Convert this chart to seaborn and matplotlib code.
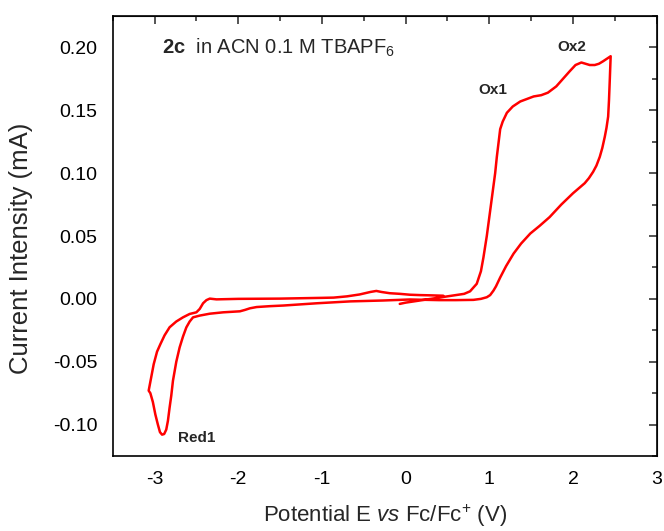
import matplotlib
matplotlib.use("Agg")
import matplotlib.pyplot as plt
from matplotlib.ticker import MultipleLocator, FixedLocator
import seaborn as sns
import pandas as pd

# Cyclic voltammogram trace (potential V vs Fc/Fc+, current mA)
potential = [
    -0.07, 0.00, 0.20, 0.40, 0.60, 0.70, 0.77, 0.85, 0.90, 0.93, 0.97, 1.01, 1.04, 1.07, 1.09,
    1.11, 1.13, 1.16, 1.21, 1.28, 1.37, 1.45, 1.53, 1.62, 1.70, 1.80, 1.88, 1.96, 2.03, 2.10,
    2.15, 2.20, 2.26, 2.31, 2.36, 2.45,
    2.44, 2.43, 2.42, 2.40, 2.38, 2.35, 2.32, 2.28, 2.24, 2.19, 2.14, 2.07, 2.00, 1.86, 1.72,
    1.60, 1.49, 1.38, 1.29, 1.20, 1.13, 1.08, 1.05, 1.01, 0.97, 0.90, 0.81, 0.60, 0.40, 0.05,
    -0.27, -0.66, -1.06, -1.46, -1.62, -1.78, -1.86, -1.92, -1.98, -2.18, -2.34, -2.46, -2.54,
    -2.58, -2.62, -2.66, -2.70, -2.74, -2.78, -2.80, -2.82, -2.84, -2.86, -2.885, -2.91, -2.935,
    -2.96, -2.99, -3.02, -3.05, -3.07,
    -3.05, -3.01, -2.97, -2.93, -2.88, -2.82, -2.74, -2.66, -2.58, -2.50, -2.46, -2.42, -2.38,
    -2.34, -2.26, -2.00, -1.50, -1.00, -0.86, -0.70, -0.55, -0.42, -0.35, -0.29, -0.19, -0.07,
    0.05, 0.17, 0.30, 0.45,
]
current = [
    -0.004, -0.003, -0.001, 0.001, 0.003, 0.004, 0.006, 0.012, 0.022, 0.033, 0.050, 0.070, 0.085,
    0.100, 0.113, 0.124, 0.135, 0.141, 0.148, 0.153, 0.157, 0.159, 0.161, 0.162, 0.164, 0.169,
    0.175, 0.181, 0.186, 0.188, 0.187, 0.186, 0.186, 0.187, 0.189, 0.193,
    0.175, 0.158, 0.145, 0.136, 0.129, 0.120, 0.113, 0.106, 0.101, 0.096, 0.092, 0.088, 0.084,
    0.075, 0.065, 0.058, 0.052, 0.044, 0.036, 0.026, 0.017, 0.010, 0.0066, 0.003, 0.0013, 0.000,
    -0.0008, -0.001, -0.001, -0.0005,
    -0.0013, -0.0020, -0.0035, -0.0053, -0.0058, -0.0065, -0.0075, -0.0088, -0.0099, -0.0107,
    -0.0118, -0.0133, -0.0147, -0.018, -0.0227, -0.030, -0.0386, -0.050, -0.0652, -0.077,
    -0.0865, -0.097, -0.104, -0.1075, -0.108, -0.106, -0.100, -0.092, -0.082, -0.075, -0.073,
    -0.066, -0.052, -0.042, -0.036, -0.029, -0.0226, -0.018, -0.0147, -0.012, -0.0107, -0.008,
    -0.0035, -0.001, 0.0002, -0.0004, 0.0, 0.0002, 0.0008, 0.001, 0.002, 0.0035, 0.0055, 0.0063,
    0.0055, 0.0045, 0.004, 0.0033, 0.003, 0.0028, 0.0025,
]
order = list(range(len(potential)))

peak_labels = ["Ox1", "Ox2", "Red1"]
peak_x = [1.04, 1.98, -2.50]
peak_y = [0.166, 0.200, -0.111]

x_ticks = [-3, -2, -1, 0, 1, 2, 3]
y_ticks = [-0.10, -0.05, 0.00, 0.05, 0.10, 0.15, 0.20]

df = pd.DataFrame({"E": potential, "I": current, "idx": order})

sns.set_style("white")
plt.rcParams["font.family"] = ["Liberation Sans", "DejaVu Sans"]
plt.rcParams["mathtext.fontset"] = "custom"
plt.rcParams["mathtext.rm"] = "Liberation Sans"
plt.rcParams["mathtext.it"] = "Liberation Sans:italic"
plt.rcParams["mathtext.bf"] = "Liberation Sans:bold"

fig = plt.figure(figsize=(6.64, 5.31), dpi=100)
ax = fig.add_axes([0.1697, 0.1412, 0.8193, 0.8287])

sns.lineplot(data=df, x="E", y="I", sort=False, estimator=None, color="#ff0000",
             linewidth=1.8, ax=ax)

ax.set_xlim(-3.5, 3.0)
ax.set_ylim(-0.125, 0.225)
ax.xaxis.set_major_locator(FixedLocator(x_ticks))
ax.xaxis.set_minor_locator(MultipleLocator(0.5))
ax.yaxis.set_major_locator(FixedLocator(y_ticks))
ax.yaxis.set_minor_locator(MultipleLocator(0.025))
ax.set_xticklabels([str(v) for v in x_ticks])
ax.set_yticklabels([f"{v:.2f}" for v in y_ticks])

for s in ax.spines.values():
    s.set_visible(True)
    s.set_color("black")
    s.set_linewidth(1.2)

ax.tick_params(axis="both", which="major", direction="out", length=6, width=1.1,
               labelsize=14, colors="black", pad=5)
ax.tick_params(axis="both", which="minor", direction="out", length=3.5, width=1.1)
ax.tick_params(top=False, right=False, which="both")

secx = ax.secondary_xaxis("top")
secx.xaxis.set_major_locator(FixedLocator(x_ticks))
secx.xaxis.set_minor_locator(MultipleLocator(0.5))
secx.tick_params(which="major", direction="in", length=6, width=1.1, labeltop=False)
secx.tick_params(which="minor", direction="in", length=3.5, width=1.1)
secx.set_xticklabels([])
secy = ax.secondary_yaxis("right")
secy.yaxis.set_major_locator(FixedLocator(y_ticks))
secy.yaxis.set_minor_locator(MultipleLocator(0.025))
secy.tick_params(which="major", direction="in", length=6, width=1.1, labelright=False)
secy.tick_params(which="minor", direction="in", length=3.5, width=1.1)
secy.set_yticklabels([])

ax.set_xlabel(r"Potential E $\mathit{vs}$ Fc/Fc$^{+}$ (V)", fontsize=16, labelpad=10)
ax.set_ylabel("Current Intensity (mA)", fontsize=18.5)
ax.yaxis.set_label_coords(-0.147, 0.472)

ax.text(-2.91, 0.2, r"$\mathbf{2c}$  in ACN 0.1 M TBAPF$_6$", fontsize=14.5,
        ha="left", va="center")
for lab, px, py in zip(peak_labels, peak_x, peak_y):
    ax.text(px, py, lab, fontsize=11, fontweight="bold", ha="center", va="center")

fig.savefig("out.png", dpi=100)
